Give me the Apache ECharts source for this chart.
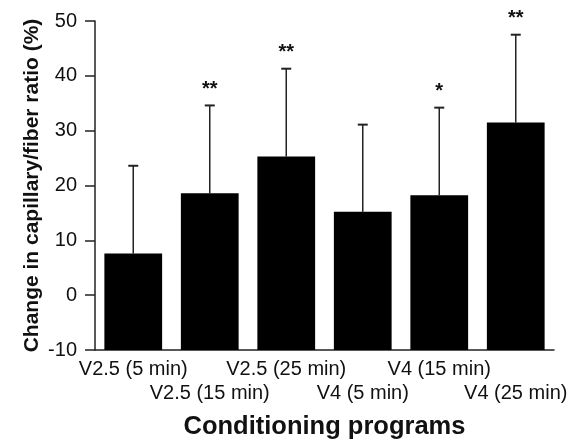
<!DOCTYPE html>
<html>
<head>
<meta charset="utf-8">
<script src="https://cdn.jsdelivr.net/npm/echarts@6/dist/echarts.min.js"></script>
<style>
html,body{margin:0;padding:0;background:#fff;}
#chart{width:569px;height:442px;}
</style>
</head>
<body>
<div id="chart"></div>
<script>
const categories = ['V2.5 (5 min)', 'V2.5 (15 min)', 'V2.5 (25 min)', 'V4 (5 min)', 'V4 (15 min)', 'V4 (25 min)'];
const means = [7.6, 18.6, 25.3, 15.2, 18.2, 31.5];
const upperError = [23.6, 34.6, 41.3, 31.1, 34.2, 47.5];
const significance = ['', '**', '**', '', '*', '**'];
const yTicks = { min: -10, max: 50, interval: 10 };

const FONT = '"Liberation Sans", Arial, Helvetica, sans-serif';
const chart = echarts.init(document.getElementById('chart'), null, { renderer: 'canvas' });

const data = categories.map((c, i) => [i, means[i], upperError[i]]);

chart.setOption({
  animation: false,
  backgroundColor: '#ffffff',
  grid: { left: 95, right: 15, top: 21, bottom: 92, containLabel: false, outerBoundsMode: 'none' },
  xAxis: {
    type: 'category',
    data: categories,
    boundaryGap: true,
    name: 'Conditioning programs',
    nameLocation: 'middle',
    nameGap: 64,
    nameMoveOverlap: false,
    nameTextStyle: { fontFamily: FONT, fontSize: 25.5, fontWeight: 'bold', color: '#111' },
    axisLine: { onZero: false, lineStyle: { color: '#222', width: 1.5 } },
    axisTick: { show: false },
    axisLabel: {
      interval: 0,
      margin: 7,
      fontFamily: FONT,
      fontSize: 20,
      lineHeight: 24,
      color: '#111',
      formatter: function (v, i) { return i % 2 ? '\n' + v : v; }
    },
    splitLine: { show: false }
  },
  yAxis: {
    type: 'value',
    min: yTicks.min,
    max: yTicks.max,
    interval: yTicks.interval,
    name: 'Change in capillary/fiber ratio (%)',
    nameLocation: 'middle',
    nameGap: 52,
    nameMoveOverlap: false,
    nameTextStyle: { fontFamily: FONT, fontSize: 21, fontWeight: 'bold', color: '#111' },
    axisLine: { show: true, lineStyle: { color: '#222', width: 1.5 } },
    axisTick: { show: true, length: 10, lineStyle: { color: '#222', width: 1.5 } },
    axisLabel: { margin: 18, fontFamily: FONT, fontSize: 20, color: '#111' },
    splitLine: { show: false }
  },
  series: [{
    type: 'custom',
    data: data,
    renderItem: function (params, api) {
      const i = api.value(0);
      const m = api.value(1);
      const e = api.value(2);
      const sig = significance[params.dataIndex];
      const top = api.coord([i, m]);
      const base = api.coord([i, yTicks.min]);
      const cap = api.coord([i, e]);
      const bw = api.size([1, 0])[0] * 0.755;
      const capW = 10;
      const children = [
        { type: 'line', shape: { x1: cap[0], y1: top[1], x2: cap[0], y2: cap[1] }, style: { stroke: '#222', lineWidth: 1.5 } },
        { type: 'line', shape: { x1: cap[0] - capW / 2, y1: cap[1], x2: cap[0] + capW / 2, y2: cap[1] }, style: { stroke: '#222', lineWidth: 2 } },
        { type: 'rect', shape: { x: top[0] - bw / 2, y: top[1], width: bw, height: base[1] - top[1] }, style: { fill: '#000' } }
      ];
      if (sig) {
        children.push({
          type: 'text',
          style: { text: sig, x: cap[0], y: cap[1] - 6, align: 'center', verticalAlign: 'bottom', font: 'bold 20px ' + FONT, fill: '#111' }
        });
      }
      return { type: 'group', children: children };
    }
  }]
});
</script>
</body>
</html>
